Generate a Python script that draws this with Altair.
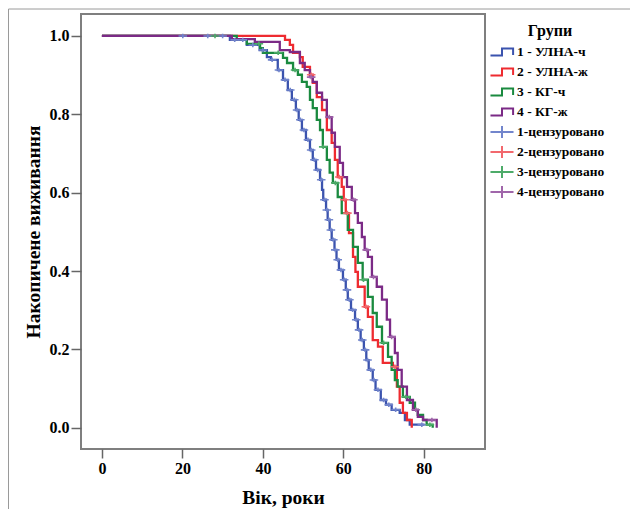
import altair as alt
import pandas as pd

groups = ["1 - УЛНА-ч", "2 - УЛНА-ж", "3 - КГ-ч", "4 - КГ-ж"]
censored = ["1-цензуровано", "2-цензуровано", "3-цензуровано", "4-цензуровано"]
line_colors = ["#3b53ae", "#ee2b30", "#1a8a3f", "#7b2a86"]
cens_colors = ["#7285cc", "#f2686d", "#4dab69", "#a066aa"]

x_ticks = [0, 20, 40, 60, 80]
y_ticks = [0.0, 0.2, 0.4, 0.6, 0.8, 1.0]

# Kaplan-Meier step curves (age, cumulative survival)
blue_t = [0, 29.8, 31.8, 36.0, 39.2, 41.0, 42.0, 43.7, 45.0, 46.2, 47.2, 48.2, 48.9, 49.7, 50.7, 51.7,
          52.4, 53.2, 54.2, 54.7, 55.0, 55.7, 56.1, 56.6, 57.1, 57.8, 58.3, 58.9, 59.9, 60.6, 61.1, 61.9,
          62.9, 63.6, 64.3, 65.1, 65.7, 66.3, 67.3, 68.0, 69.3, 70.6, 72.0, 74.0, 75.3, 76.5, 80.2]
blue_s = [1.0, 1.0, 0.990, 0.977, 0.964, 0.946, 0.939, 0.913, 0.888, 0.862, 0.837, 0.811, 0.786, 0.760,
          0.735, 0.709, 0.684, 0.658, 0.633, 0.607, 0.582, 0.556, 0.531, 0.505, 0.480, 0.454, 0.429, 0.403,
          0.378, 0.352, 0.327, 0.301, 0.276, 0.250, 0.224, 0.199, 0.173, 0.148, 0.122, 0.097, 0.071, 0.059,
          0.046, 0.038, 0.020, 0.008, 0.008]

red_t = [0, 44.2, 45.5, 46.7, 47.5, 49.2, 49.9, 51.7, 52.4, 53.4, 54.7, 55.9, 57.1, 57.9, 58.6, 59.6,
         60.1, 60.6, 61.4, 62.4, 63.0, 63.6, 65.3, 66.1, 67.3, 68.6, 69.8, 72.3, 73.3, 74.0, 74.8, 75.8, 77.0]
red_s = [1.0, 1.0, 0.990, 0.977, 0.957, 0.946, 0.921, 0.901, 0.880, 0.844, 0.811, 0.760, 0.727, 0.684,
         0.640, 0.615, 0.582, 0.548, 0.497, 0.436, 0.398, 0.360, 0.309, 0.283, 0.224, 0.207, 0.166, 0.156,
         0.105, 0.064, 0.038, 0.020, 0.0]

green_t = [0, 31.1, 33.5, 36.0, 39.3, 40.0, 45.0, 46.0, 47.5, 48.7, 49.7, 50.9, 51.7, 52.4, 53.4, 54.2,
           54.9, 55.9, 56.6, 57.4, 58.6, 59.6, 61.1, 62.4, 63.6, 64.8, 66.1, 67.3, 68.3, 69.6, 71.1, 72.0,
           72.8, 73.5, 74.8, 76.5, 77.8, 78.5, 79.8, 80.7, 82.2]
green_s = [1.0, 1.0, 0.992, 0.980, 0.969, 0.957, 0.944, 0.931, 0.913, 0.901, 0.883, 0.870, 0.837, 0.816,
           0.786, 0.760, 0.717, 0.684, 0.651, 0.625, 0.589, 0.548, 0.505, 0.462, 0.421, 0.378, 0.334, 0.293,
           0.258, 0.217, 0.181, 0.148, 0.122, 0.105, 0.079, 0.064, 0.046, 0.033, 0.020, 0.008, 0.0]

purple_t = [0, 32.3, 38.0, 44.2, 46.7, 49.2, 50.4, 51.7, 52.4, 53.4, 54.7, 55.9, 57.1, 57.9, 59.1, 59.9,
            60.9, 62.1, 62.9, 63.6, 64.6, 65.3, 66.1, 67.1, 68.3, 69.6, 70.8, 71.6, 72.8, 73.5, 74.5, 75.8,
            77.3, 78.5, 79.8, 83.2]
purple_s = [1.0, 0.992, 0.985, 0.964, 0.959, 0.931, 0.913, 0.895, 0.883, 0.855, 0.837, 0.793, 0.753, 0.717,
            0.676, 0.640, 0.615, 0.582, 0.548, 0.523, 0.487, 0.454, 0.436, 0.385, 0.360, 0.327, 0.276, 0.232,
            0.191, 0.148, 0.105, 0.071, 0.046, 0.028, 0.020, 0.0]

# censored observations (age, survival at that age)
blue_ct = [20.1, 26.3, 30.0, 33.0, 35.0, 37.5, 40.0, 42.3, 44.0, 45.5, 46.8, 47.8, 48.5, 49.3, 50.2, 51.2,
           52.0, 52.8, 53.6, 54.5, 55.3, 55.9, 56.4, 56.9, 57.5, 58.0, 58.6, 59.4, 60.2, 60.9, 61.5, 62.3,
           63.2, 63.9, 64.7, 65.4, 66.0, 66.8, 67.6, 68.6, 70.0, 71.3, 73.0, 79.5]
blue_cs = [1.0, 1.0, 1.0, 0.990, 0.990, 0.977, 0.964, 0.939, 0.913, 0.888, 0.862, 0.837, 0.811, 0.786,
           0.760, 0.735, 0.709, 0.684, 0.658, 0.633, 0.582, 0.556, 0.531, 0.505, 0.480, 0.454, 0.429, 0.403,
           0.378, 0.352, 0.327, 0.301, 0.276, 0.250, 0.224, 0.199, 0.173, 0.148, 0.122, 0.097, 0.071, 0.059,
           0.046, 0.008]
red_ct = [52.0, 59.0, 60.3, 61.0, 65.6, 72.8]
red_cs = [0.901, 0.640, 0.582, 0.548, 0.309, 0.156]
green_ct = [28.1, 39.0, 43.8, 48.0, 55.0, 58.0, 65.0, 70.0, 75.5, 81.5]
green_cs = [1.0, 0.980, 0.957, 0.913, 0.717, 0.625, 0.378, 0.217, 0.079, 0.008]
purple_ct = [52.0, 56.5, 62.5, 65.8, 67.5, 72.0, 78.0, 82.0]
purple_cs = [0.895, 0.793, 0.582, 0.454, 0.385, 0.232, 0.046, 0.020]

line_rows = []
for g, ts, ss in zip(groups, [blue_t, red_t, green_t, purple_t], [blue_s, red_s, green_s, purple_s]):
    line_rows += [{"t": t, "s": s, "grp": g} for t, s in zip(ts, ss)]
lines_df = pd.DataFrame(line_rows)

cens_rows = []
for g, ts, ss in zip(censored, [blue_ct, red_ct, green_ct, purple_ct], [blue_cs, red_cs, green_cs, purple_cs]):
    cens_rows += [{"t": t, "s": s, "grp": g} for t, s in zip(ts, ss)]
cens_df = pd.DataFrame(cens_rows)

FONT = "Liberation Serif"
# symbol paths drawn in units of sqrt(size)/2 (legend symbol size 144 -> 6 px per unit)
step_path = "M-1.92,0.58H0V-0.58H1.85V0.5"
plus_path = "M-1.92,0H1.92M0,-1V1"

legend = alt.Legend(
    orient="none", legendX=414, legendY=9, title="Групи", padding=0,
    titleFont=FONT, titleFontSize=16, titleFontWeight="bold", titleColor="#000",
    titleAnchor="middle", titlePadding=6,
    labelFont=FONT, labelFontSize=13.5, labelFontWeight="bold", labelColor="#000", labelOffset=8,
    symbolSize=144, gridAlign="all", rowPadding=0, symbolStrokeWidth=2,
    symbolFillColor="transparent", symbolOpacity=1,
)

all_labels = groups + censored
color_scale = alt.Scale(domain=all_labels, range=line_colors + cens_colors)
shape_scale = alt.Scale(domain=all_labels, range=[step_path] * 4 + [plus_path] * 4)

x_enc = alt.X("t:Q", scale=alt.Scale(domain=[-5.2, 95.2], nice=False, zero=False),
              axis=alt.Axis(values=x_ticks, title="Вік, роки", format="d", tickSize=9,
                            labelPadding=2, titlePadding=12))
y_enc = alt.Y("s:Q", scale=alt.Scale(domain=[-0.054, 1.056], nice=False, zero=False),
              axis=alt.Axis(values=y_ticks, title="Накопичене виживання", format=".1f", tickSize=10,
                            labelPadding=2, titlePadding=6))

lines = alt.Chart(lines_df).mark_line(interpolate="step-after", strokeWidth=2.3).encode(
    x=x_enc, y=y_enc, color=alt.Color("grp:N", scale=color_scale, legend=legend)
)
cens = alt.Chart(cens_df).mark_point(size=20, filled=False, strokeWidth=1.6, opacity=1).encode(
    x="t:Q", y="s:Q",
    color=alt.Color("grp:N", scale=color_scale, legend=legend),
    shape=alt.Shape("grp:N", scale=shape_scale, legend=legend),
)

frame_df = pd.DataFrame({"k": [0]})
vline = alt.Chart(frame_df).mark_rule(color="#9a9a9a", strokeWidth=1).encode(
    x=alt.value(-72.5), y=alt.value(-5), y2=alt.value(500))
hline = alt.Chart(frame_df).mark_rule(color="#9a9a9a", strokeWidth=1).encode(
    x=alt.value(-72.5), x2=alt.value(560), y=alt.value(-5))

chart = alt.layer(vline, hline, lines, cens).properties(
    width=404, height=435,
    padding={"left": 73, "top": 6, "right": 145, "bottom": 60},
    autosize=alt.AutoSizeParams(type="none"),
    background="white",
).configure_view(stroke="#7f7f7f", strokeWidth=2).configure_axis(
    grid=False, domain=False, tickColor="#666666", tickWidth=1.5,
    labelFont=FONT, labelFontSize=16, labelFontWeight="bold", labelColor="#000",
    titleFont=FONT, titleFontSize=19.5, titleFontWeight="bold", titleColor="#000",
)

chart.save("out.html", embed_options={"renderer": "svg", "actions": False})
